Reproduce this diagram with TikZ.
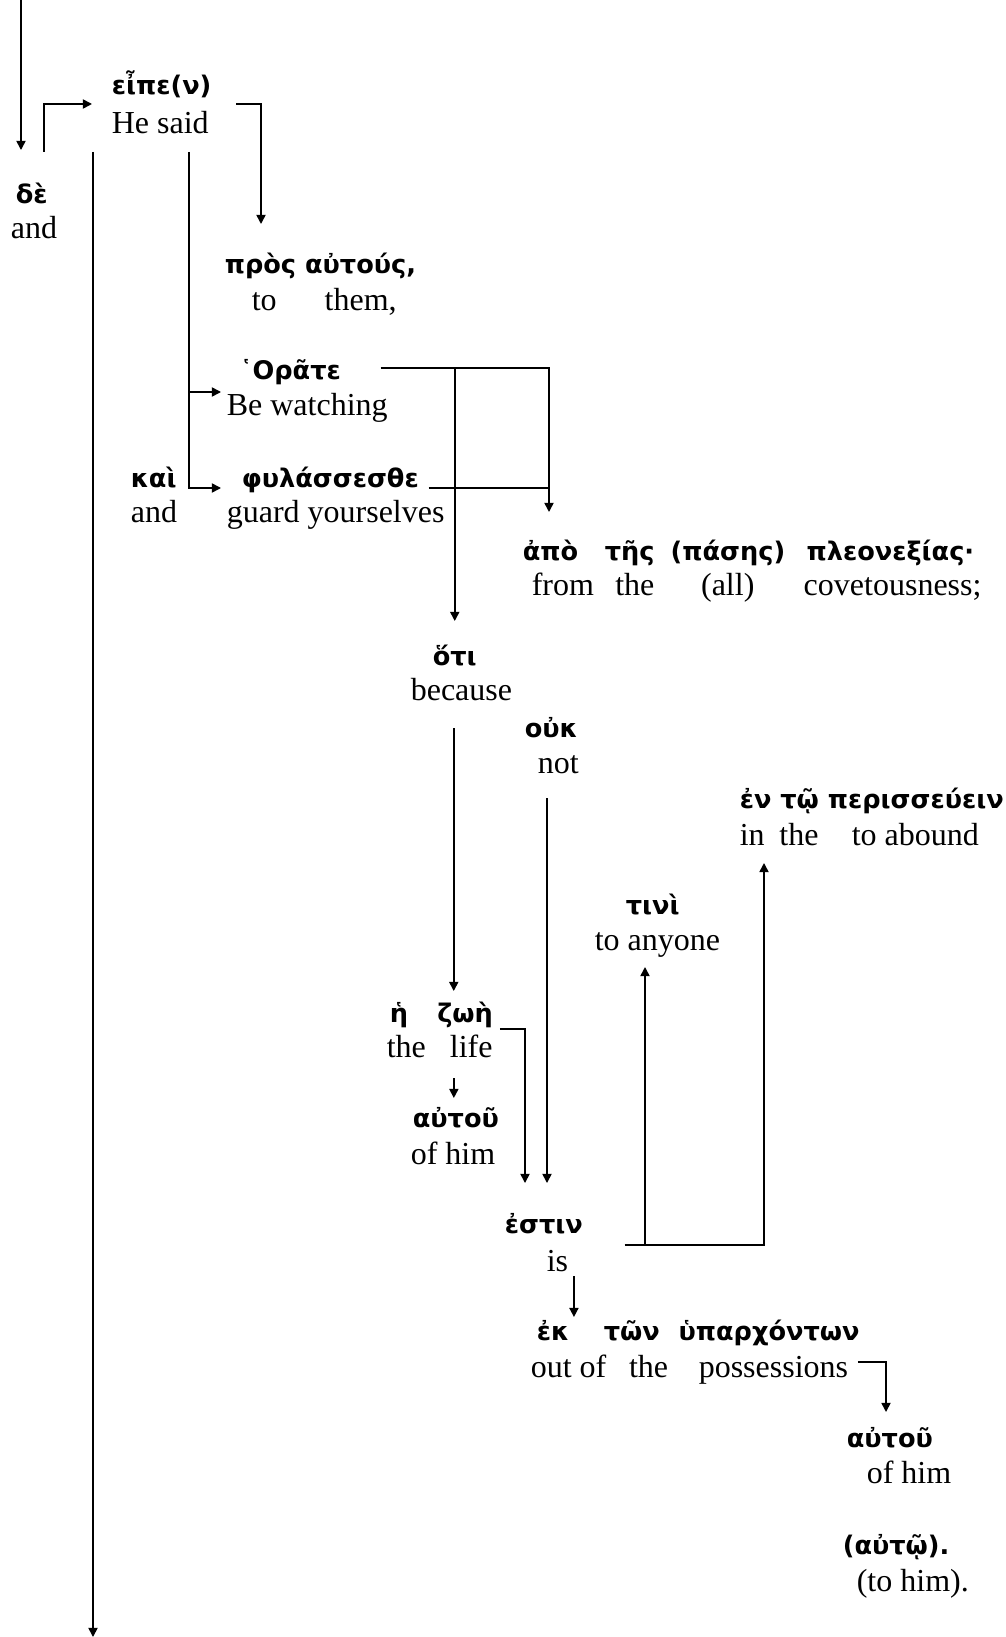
\documentclass[tikz,border=0pt]{standalone}
\usepackage{fontspec}
\setmainfont{Liberation Serif}
\newfontfamily\greekfont{DejaVu Sans}
\usetikzlibrary{arrows.meta,calc}

\begin{document}
\begin{tikzpicture}[x=0.375pt, y=-0.375pt,
  >={Triangle[length=3.4pt,width=3.4pt]},
  line width=0.6pt,
  gk/.style={anchor=mid west, inner sep=0pt, font=\greekfont\bfseries\fontsize{9.6}{11}\selectfont},
  en/.style={anchor=mid west, inner sep=0pt, font=\fontsize{12}{14}\selectfont}]
\useasboundingbox (0,0) rectangle (1005,1637);
% Main clause
\node[gk] (deG) at (15,197) {δὲ};
\node[en] (deE) at (10,232) {and};
\node[gk] (eipeG) at (111,88) {εἶπε(ν)};
\node[en] (eipeE) at (111,127) {He said};
\node[gk] (prosG) at (224,267) {πρὸς αὐτούς,};
\node[en] (prosE) at (251,304) {to\hspace{18pt}them,};
% Imperatives
\node[gk] (oraG) at (239,373) {῾Ορᾶτε};
\node[en] (oraE) at (226,409) {Be watching};
\node[gk] (kaiG) at (130,481) {καὶ};
\node[en] (kaiE) at (130,516) {and};
\node[gk] (phylG) at (241,481) {φυλάσσεσθε};
\node[en] (phylE) at (226,516) {guard yourselves};
\node[gk] (apoG) at (522,554) {ἀπὸ\hspace{10pt}τῆς\hspace{6pt}(πάσης)\hspace{8pt}πλεονεξίας·};
\node[en] (apoE) at (531,589) {from\hspace{8pt}the\hspace{17.5pt}(all)\hspace{18.5pt}covetousness;};
% Causal clause
\node[gk] (hotiG) at (432,659) {ὅτι};
\node[en] (hotiE) at (410,694) {because};
\node[gk] (oukG) at (524,731) {οὐκ};
\node[en] (oukE) at (537,767) {not};
\node[gk] (enG) at (739,802) {ἐν τῷ περισσεύειν};
\node[en] (enE) at (739,839) {in\hspace{5.5pt}the\hspace{12.5pt}to abound};
\node[gk] (tiniG) at (625,908) {τινὶ};
\node[en] (tiniE) at (594,944) {to anyone};
\node[gk] (zoeG) at (389,1016) {ἡ\hspace{11pt}ζωὴ};
\node[en] (zoeE) at (386,1051) {the\hspace{9pt}life};
\node[gk] (autouG) at (412,1121) {αὐτοῦ};
\node[en] (autouE) at (410,1158) {of him};
\node[gk] (estinG) at (504,1227) {ἐστιν};
\node[en] (estinE) at (546,1265) {is};
\node[gk] (ekG) at (536,1334) {ἐκ\hspace{13pt}τῶν\hspace{7pt}ὑπαρχόντων};
\node[en] (ekE) at (530,1371) {out of\hspace{8.5pt}the\hspace{11.5pt}possessions};
\node[gk] (hisG) at (846,1441) {αὐτοῦ};
\node[en] (hisE) at (866,1477) {of him};
\node[gk] (autoG) at (842,1548) {(αὐτῷ).};
\node[en] (autoE) at (856,1585) {(to him).};
% Trunk lines
\coordinate (top) at (21,0);
\coordinate (bottom) at (93,1637);
\draw[->] (top) -- ($(top |- deG.mid)+(0,-47)$);
\draw[->] ($(deG.mid west)+(29,-45)$) |- ($(eipeG.mid west)+(-19,16)$);
\draw[->] ($(eipeE.mid west)+(-18,25)$) -- (bottom);
\draw[->] ($(eipeE.mid west)+(125,-23)$) -| ($(prosG.mid west)+(37,-43)$);
% Watching and guarding
\draw[->] ($(eipeE.mid west)+(78,25)$) coordinate (fork) |- ($(phylG.mid west)+(-20,7)$);
\draw[->] ($(fork |- oraE.mid)+(0,-17)$) -- ($(oraE.mid west)+(-5,-17)$);
\draw[->] ($(oraG.mid east)+(39,-5)$) coordinate (oraout) -| ($(apoG.mid west)+(27,-42)$) coordinate (apoin);
\draw ($(phylG.mid east)+(9,7)$) coordinate (phylout) -- (phylout -| apoin);
\draw[->] (hotiG.mid |- oraout) -- ($(hotiG.mid)+(0,-38)$);
% Life and being
\draw[->] ($(hotiG.mid)+(-1,69)$) -- ($(hotiG.mid |- zoeG.mid)+(-1,-25)$);
\draw[->] ($(autouG.mid |- zoeE.mid)+(-2,27)$) -- ($(autouG.mid)+(-2,-23)$);
\draw[->] ($(zoeG.mid east)+(6,13)$) -| ($(estinG.mid west)+(21,-44)$);
\draw[->] ($(oukE.mid west)+(10,31)$) -- ($(oukE.mid west |- estinG.mid)+(10,-44)$);
% Modifiers of the verb
\draw[->] ($(estinG.mid east)+(41,18)$) coordinate (estout) -| ($(enE.mid west)+(25,24)$);
\coordinate (tiniin) at ($(tiniE.mid west)+(51,23)$);
\draw[->] (tiniin |- estout) -- (tiniin);
\draw[->] ($(estinE.mid east)+(5,11)$) -- ($(estinE.mid east |- ekG.mid)+(5,-17)$);
\draw[->] ($(ekE.mid east)+(9,-9)$) -| ($(hisG.mid west)+(40,-29)$);
\end{tikzpicture}
\end{document}
